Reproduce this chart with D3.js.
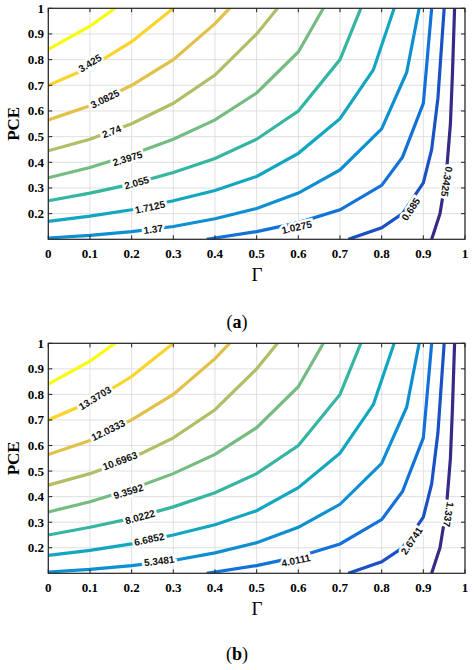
<!DOCTYPE html>
<html><head><meta charset="utf-8">
<script src="https://cdn.jsdelivr.net/npm/d3@7"></script>
<style>body{margin:0;background:#fff}</style></head>
<body><svg id="c" width="474" height="670"></svg>
<script>
// contour geometry: [Γ, PCE]
const contours = [
 [[0.92,0.1],[0.94,0.2],[0.955,0.35],[0.965,0.55],[0.97,0.75],[0.975,1.0]],
 [[0.72,0.1],[0.8,0.145],[0.85,0.2],[0.9,0.32],[0.92,0.45],[0.935,0.65],[0.95,1.0]],
 [[0.38,0.1],[0.5,0.13],[0.6,0.165],[0.7,0.215],[0.8,0.31],[0.85,0.42],[0.9,0.63],[0.92,1.0]],
 [[0,0.105],[0.1,0.115],[0.2,0.13],[0.3,0.15],[0.4,0.18],[0.5,0.22],[0.6,0.28],[0.7,0.37],[0.8,0.53],[0.86,0.75],[0.89,1.0]],
 [[0,0.17],[0.1,0.19],[0.2,0.215],[0.3,0.25],[0.4,0.29],[0.5,0.345],[0.6,0.435],[0.7,0.57],[0.78,0.76],[0.83,1.0]],
 [[0,0.25],[0.1,0.28],[0.2,0.315],[0.3,0.36],[0.4,0.415],[0.5,0.49],[0.6,0.6],[0.7,0.8],[0.75,1.0]],
 [[0,0.34],[0.1,0.38],[0.2,0.43],[0.3,0.49],[0.4,0.565],[0.5,0.67],[0.6,0.83],[0.66,1.0]],
 [[0,0.445],[0.1,0.49],[0.2,0.55],[0.3,0.63],[0.4,0.74],[0.5,0.9],[0.55,1.0]],
 [[0,0.565],[0.1,0.62],[0.2,0.7],[0.3,0.8],[0.4,0.94],[0.435,1.0]],
 [[0,0.7],[0.1,0.77],[0.2,0.87],[0.3,1.0]],
 [[0,0.84],[0.1,0.93],[0.16,1.0]]
];
const labelsA = ["0.3425","0.685","1.0275","1.37","1.7125","2.055","2.3975","2.74","3.0825","3.425",null];
const labelsB = ["1.337","2.6741","4.0111","5.3481","6.6852","8.0222","9.3592","10.6963","12.0333","13.3703",null];
const labelPosA = [[0.956,0.325],[0.87,0.217],[0.596,0.147],[0.252,0.139],[0.244,0.225],[0.212,0.32],[0.19,0.415],[0.152,0.52],[0.136,0.647],[0.10,0.786],null];
const labelPosB = [[0.96,0.33],[0.872,0.227],[0.594,0.15],[0.266,0.148],[0.242,0.233],[0.22,0.32],[0.192,0.42],[0.172,0.54],[0.144,0.66],[0.112,0.786],null];
const xTicks = [0,0.1,0.2,0.3,0.4,0.5,0.6,0.7,0.8,0.9,1];
const yTicks = [0.2,0.3,0.4,0.5,0.6,0.7,0.8,0.9,1];
const parula = ["#352a87","#0f5cdd","#1481d6","#06a4ca","#2eb7a4","#87bf77","#d1bb59","#fec832","#f9fb0e"];
const col = d3.interpolateRgbBasis(parula);

const svg = d3.select("#c");
function panel(top, bottom, labels, lpos, cap, capY){
  const x = d3.scaleLinear().domain([0,1]).range([48.3,465]);
  const y = d3.scaleLinear().domain([0.1,1]).range([bottom,top]);
  const g = svg.append("g");
  g.selectAll(".gx").data(xTicks).join("line").attr("x1",d=>x(d)).attr("x2",d=>x(d)).attr("y1",top).attr("y2",bottom).attr("stroke","#d8d8d8").attr("stroke-width",0.8);
  g.selectAll(".gy").data(yTicks).join("line").attr("y1",d=>y(d)).attr("y2",d=>y(d)).attr("x1",48.3).attr("x2",465).attr("stroke","#d8d8d8").attr("stroke-width",0.8);
  const line = d3.line().x(d=>x(d[0])).y(d=>y(d[1]));
  const cg = g.append("g").attr("clip-path","url(#clip"+cap+")");
  g.append("clipPath").attr("id","clip"+cap).append("rect").attr("x",48.3).attr("y",top).attr("width",465-48.3).attr("height",bottom-top);
  contours.forEach((c,i)=>{
    cg.append("path").attr("d",line(c)).attr("fill","none").attr("stroke",col(i/10)).attr("stroke-width",3.2);
  });
  contours.forEach((c,i)=>{
    if(!labels[i]) return;
    const [lx,ly] = lpos[i];
    const px=x(lx), py=y(ly);
    // nearest segment for angle
    let best=1e9, ang=0;
    for(let k=0;k<c.length-1;k++){
      const ax=x(c[k][0]),ay=y(c[k][1]),bx=x(c[k+1][0]),by=y(c[k+1][1]);
      const mx=(ax+bx)/2,my=(ay+by)/2, dd=(mx-px)**2+(my-py)**2;
      if(dd<best){best=dd;ang=Math.atan2(by-ay,bx-ax)*180/Math.PI;}
    }
    if(ang>90) ang-=180; if(ang<-80) ang+=180;
    g.append("text").attr("transform",`translate(${px},${py}) rotate(${ang})`)
     .attr("text-anchor","middle").attr("dominant-baseline","central")
     .attr("font-family","Liberation Sans, Arial").attr("font-weight","bold").attr("font-size",10)
     .attr("stroke","#fff").attr("stroke-width",5).attr("paint-order","stroke").attr("fill","#111")
     .text(labels[i]);
  });
  g.append("rect").attr("x",48.3).attr("y",top).attr("width",465-48.3).attr("height",bottom-top).attr("fill","none").attr("stroke","#222").attr("stroke-width",1.2);
  xTicks.forEach(t=>{
    g.append("line").attr("x1",x(t)).attr("x2",x(t)).attr("y1",bottom).attr("y2",bottom-4).attr("stroke","#222");
    g.append("line").attr("x1",x(t)).attr("x2",x(t)).attr("y1",top).attr("y2",top+4).attr("stroke","#222");
    g.append("text").attr("x",x(t)).attr("y",bottom+19).attr("text-anchor","middle").attr("font-family","Liberation Serif").attr("font-weight","bold").attr("font-size",13).text(d3.format("")(t));
  });
  yTicks.forEach(t=>{
    g.append("line").attr("x1",48.3).attr("x2",52.3).attr("y1",y(t)).attr("y2",y(t)).attr("stroke","#222");
    g.append("line").attr("x1",461).attr("x2",465).attr("y1",y(t)).attr("y2",y(t)).attr("stroke","#222");
    g.append("text").attr("x",44).attr("y",y(t)+4.5).attr("text-anchor","end").attr("font-family","Liberation Serif").attr("font-weight","bold").attr("font-size",13).text(d3.format("")(t));
  });
  g.append("text").attr("x",257).attr("y",bottom+42).attr("text-anchor","middle").attr("font-family","Liberation Serif").attr("font-size",19).text("Γ");
  g.append("text").attr("transform",`translate(19,${(top+bottom)/2}) rotate(-90)`).attr("text-anchor","middle").attr("font-family","Liberation Serif").attr("font-weight","bold").attr("font-size",17).text("PCE");
  const t=g.append("text").attr("x",237).attr("y",capY).attr("text-anchor","middle").attr("font-family","Liberation Serif").attr("font-size",18);
  t.append("tspan").text("(");t.append("tspan").attr("font-weight","bold").text(cap);t.append("tspan").text(")");
}
panel(8.3,239.3,labelsA,labelPosA,"a",328);
panel(343.3,573.3,labelsB,labelPosB,"b",660);
</script></body></html>
